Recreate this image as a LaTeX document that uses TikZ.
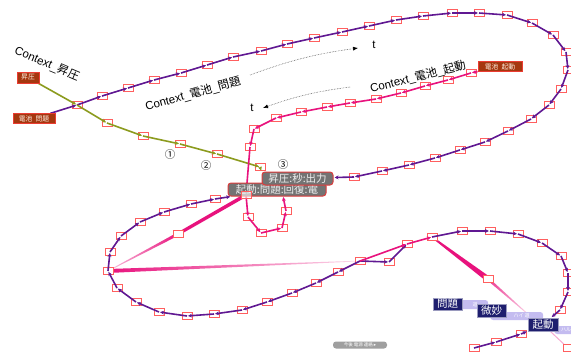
\documentclass[tikz,border=0pt]{standalone}
\usepackage{fontspec}
\setmainfont{Liberation Sans}
\newfontfamily\jp{Noto Sans CJK JP}
\newfontfamily\djv{DejaVu Sans}
\usetikzlibrary{arrows.meta,calc}
\pgfdeclarelayer{bg}
\pgfdeclarelayer{edgel}
\pgfdeclarelayer{top}
\pgfsetlayers{bg,main,edgel,top}
\definecolor{purp}{RGB}{96,24,146}
\definecolor{pnk}{RGB}{232,18,125}
\definecolor{olv}{RGB}{140,155,30}
\definecolor{sqred}{RGB}{255,95,95}
\definecolor{brn}{RGB}{165,55,15}
\definecolor{tagred}{RGB}{235,60,50}
\definecolor{lblgray}{RGB}{115,115,115}
\definecolor{glred}{RGB}{220,60,60}
\definecolor{navy}{RGB}{30,30,110}
\definecolor{lav}{RGB}{196,188,240}
\newcommand{\wedgeshape}[5]{%
  \path[#5] ($(#1)!#3!90:(#2)$) -- ($(#2)!#4!-90:(#1)$) -- ($(#2)!#4!90:(#1)$) -- ($(#1)!#3!-90:(#2)$) -- cycle;}
\begin{document}
\begin{tikzpicture}[x=1pt,y=-1pt,
  sq/.style={rectangle,minimum width=10pt,minimum height=7pt,inner sep=0pt,draw=sqred,line width=0.9pt,fill=white},
  pe/.style={draw=purp,line width=1.6pt,-{Stealth[length=4pt,width=3.8pt]},shorten >=1pt},
  ke/.style={draw=pnk,line width=1.6pt,-{Stealth[length=4pt,width=3.8pt]},shorten >=1pt},
  oe/.style={draw=olv,line width=1.6pt,-{Stealth[length=4pt,width=3.8pt]},shorten >=1pt},
  tag/.style={draw=tagred,fill=brn,text=white!90!orange,font=\jp\fontsize{6.8}{7}\selectfont,inner sep=0pt,line width=0.8pt},
  glab/.style={draw=glred,fill=lblgray,text=white!88!gray,rounded corners=3pt,line width=1pt,font=\jp\fontsize{10.5}{10.5}\selectfont,inner sep=0pt},
  nlab/.style={draw=navy!45,fill=navy,text=white,font=\jp\fontsize{10.5}{10.5}\selectfont,inner sep=0pt,line width=0.6pt},
  tail/.style={fill=lav,rounded corners=3pt,text=white,font=\jp\fontsize{5}{5}\selectfont,inner sep=0pt},
  ctx/.style={font=\fontsize{11.5}{12}\selectfont,inner sep=0pt},
  circ/.style={font=\jp\fontsize{10.5}{10.5}\selectfont,inner sep=0pt},
  dotarr/.style={densely dotted,draw=gray!60!black,line width=0.55pt,-{Latex[length=5pt,width=4pt,color=black]}}
]
\useasboundingbox (0,0) rectangle (571,353);
\begin{pgfonlayer}{bg}
\fill[white] (0,0) rectangle (571,353);
\end{pgfonlayer}

% ---------- labels (top layer) ----------
\begin{pgfonlayer}{top}
\node[tag,minimum width=22pt,minimum height=11pt] (lbs) at (28,77.5) {昇圧};
\node[tag,minimum width=42pt,minimum height=9.5pt] (lbm) at (34,118.5) {電池\ \ 問題};
\node[tag,minimum width=44pt,minimum height=9.5pt] (lbk) at (500,66.5) {電池\ \ 起動};
\node[glab,minimum width=98pt,minimum height=13pt] (L2) at (277,189.5) {起動:問題:回復:電};
\node[glab,minimum width=71pt,minimum height=13pt] (L1) at (297.5,178.5) {昇圧:秒:出力};
\node[tail,minimum width=32pt,minimum height=9pt,anchor=west] (T1) at (456,304.5) {\hspace*{6pt}道};
\node[tail,minimum width=53pt,minimum height=8pt,anchor=west] (T2) at (490,316) {\hspace*{10pt}ハイ 道};
\node[tail,minimum width=20pt,minimum height=8pt,anchor=west] (T3) at (554,330) {\hspace*{4pt}ハル};
\node[nlab,minimum width=29pt,minimum height=12pt] (N1) at (447.5,304) {問題};
\node[nlab,minimum width=29pt,minimum height=13pt] (N2) at (491.5,310.5) {微妙};
\node[nlab,minimum width=30pt,minimum height=13pt] (N3) at (543,324.5) {起動};
\node[fill=gray!75,rounded corners=3pt,minimum width=54pt,minimum height=7pt,inner sep=0pt,text=white,font=\jp\fontsize{4.5}{5}\selectfont] (pl) at (360,345) {今後 電源 連絡 {\djv ▸}};
\end{pgfonlayer}

% ---------- squares ----------
\foreach \n/\x/\y in {a1/77/105,a2/102/96,a3/128/88,a4/154/80,a5/181/73,a6/207/65,a7/233/57,a8/261/51,a9/287/44,a10/314/38,a11/342/32,a12/369/26,a13/396/20,a14/423/16,a15/452/13,a16/479/13,a17/507/15,a18/532/23,a19/553/35,a20/566/52,a21/568/70,a22/561/89,a23/549/105,a24/531/119,a25/508/131,a26/485/142,a27/460/150,a28/435/158,a29/409/165,a30/382/171,a31/354/177,
 o2/107/123,o3/143/136,o4/180/144,o5/217/154,o6/260/167,
 k1/471/73,k2/448/80,k3/425/86,k4/401/93,k5/376/99,k6/350/103,k7/327/107,k8/301/112,k9/276/118,k10/254/129,k11/250/147,h/246/195,
 q1/248/217,q2/261/233,q3/282/228,q4/286/211,
 b1/215/199,b2/191/204,b3/164/212,b4/140/222,b5/121/236,b6/110/252,b7/108/271,b8/117/288,b9/136/302,b10/159/312,b11/187/316,b12/214/314,b13/242/310,b14/267/302,b15/292/293,b16/316/283,b17/338/272,b18/360/261,
 e1/178/234,
 c1/389/262,c2/407/244,c3/432/237,c4/462/231,c5/490/231,c6/518/234,c7/542/243,c8/561/256,c9/568/273,c10/568/292,c11/560/310,
 f1/488/279,d1/521/334,d2/496/342,d3/474/348,g1/568/348}
  \node[sq] (\n) at (\x,\y) {};
\coordinate (q4end) at (283,196);
\coordinate (f1end) at (530,316);

% ---------- tapered pink wedges (background) ----------
\begin{pgfonlayer}{bg}
\wedgeshape{h}{e1}{1.8pt}{1.6pt}{fill=pnk}
\wedgeshape{e1}{b7}{1.6pt}{0.3pt}{left color=pnk!25,right color=pnk}
\wedgeshape{b7}{b18}{2pt}{0.3pt}{left color=pnk,right color=pnk!15}
\wedgeshape{c3}{f1}{0.8pt}{2.8pt}{fill=pnk}
\wedgeshape{f1}{f1end}{1.4pt}{0.3pt}{left color=pnk!85,right color=pnk!15}
\draw[pnk!35,line width=1pt] (N3) -- (g1.center);
\end{pgfonlayer}

% ---------- connectors ----------
\begin{pgfonlayer}{edgel}
\draw[pe] (lbm) -- (a1.center);
\foreach \i [evaluate=\i as \j using int(\i+1)] in {1,...,30}
  \draw[pe] (a\i.center) -- (a\j.center);
\draw[pe] (a31.center) -- (L1);
\draw[oe] (lbs) -- (a1.center);
\draw[oe] (a1.center) -- (o2.center);
\foreach \u/\v in {o2/o3,o3/o4,o4/o5,o5/o6} \draw[oe] (\u.center) -- (\v.center);
\draw[oe] (o6.center) -- (L1.north west);
\draw[ke] (lbk) -- (k1.center);
\foreach \i [evaluate=\i as \j using int(\i+1)] in {1,...,10}
  \draw[ke] (k\i.center) -- (k\j.center);
\draw[ke] (k11.center) -- (h.center);
\draw[ke] (h.center) -- (q1.center);
\foreach \u/\v in {q1/q2,q2/q3,q3/q4} \draw[ke] (\u.center) -- (\v.center);
\draw[ke] (q4.center) -- (q4end);
\foreach \i [evaluate=\i as \j using int(\i-1)] in {18,17,...,2}
  \draw[pe] (b\i.center) -- (b\j.center);
\draw[pe] (b1.center) -- (L2);
\draw[pe] (b18.center) -- (c1.center);
\draw[pe] (c1.center) -- (c2.center);
\draw[ke] (b18.center) -- (c2.center);
\draw[ke] (c2.center) -- (c3.center);
\foreach \u/\v in {c3/c4,c4/c5,c5/c6,c6/c7,c7/c8,c8/c9,c9/c10,c10/c11} \draw[pe] (\u.center) -- (\v.center);
\draw[pe] (c11.center) -- (N3);
\draw[pe] (d3.center) -- (d2.center);
\draw[pe] (d2.center) -- (d1.center);
\draw[pe] (d1.center) -- (N3);
\end{pgfonlayer}

\begin{pgfonlayer}{top}
\node[sq,fill opacity=0.6] at (h) {};
\end{pgfonlayer}

% ---------- context texts ----------
\node[ctx,rotate=-23] (cx1) at (47,64) {Context\_{\jp 昇圧}};
\node[ctx,rotate=15.5] (cx2) at (193,94) {Context\_{\jp 電池}\_{\jp 問題}};
\node[ctx,rotate=14.5] (cx3) at (418,77) {Context\_{\jp 電池}\_{\jp 起動}};
\node[ctx] (t1) at (374,45) {t};
\node[ctx] (t2) at (252,108) {t};
\coordinate (s1) at (250,75);
\coordinate (e1a) at (358,48);
\coordinate (s2) at (350,87);
\coordinate (e2a) at (263,108);
\draw[dotarr] (s1) to[bend left=6] (e1a);
\draw[dotarr] (s2) to[bend right=6] (e2a);
\node[circ] (n1) at (170,155) {①};
\node[circ] (n2) at (206,166) {②};
\node[circ] (n3) at (283,165) {③};
\end{tikzpicture}
\end{document}
